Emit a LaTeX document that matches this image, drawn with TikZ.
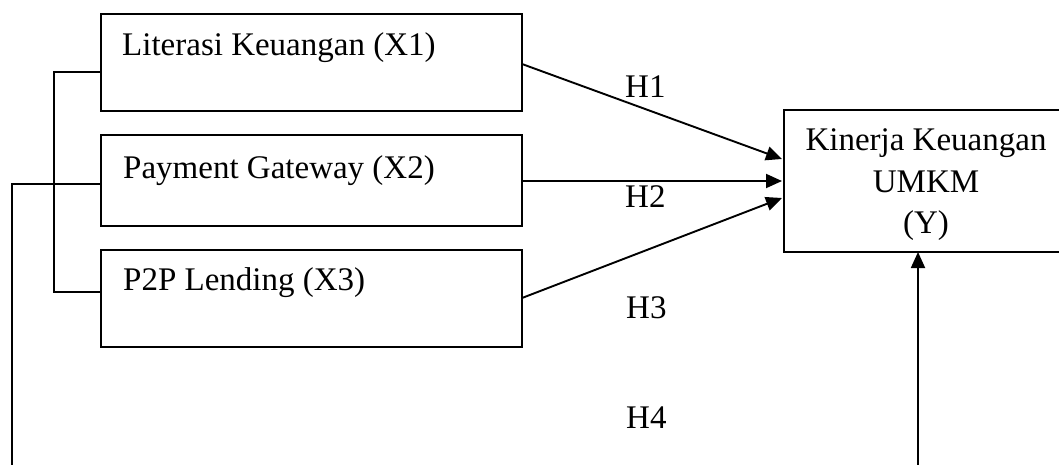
\documentclass[tikz,border=0pt]{standalone}
\usepackage{fontspec}
\setmainfont{Liberation Serif}
\usetikzlibrary{arrows.meta}
\begin{document}
\begin{tikzpicture}[x=1pt,y=-1pt,
  box/.style={draw,line width=1.7pt,inner sep=0pt},
  lbl/.style={inner sep=0pt,anchor=base west,font=\fontsize{33}{40}\selectfont},
  ytxt/.style={inner sep=0pt,anchor=base,font=\fontsize{33}{40}\selectfont},
  conn/.style={line width=1.9pt},
  arr/.style={line width=1.9pt,-{Triangle[length=16pt,width=14pt]}}]
\useasboundingbox (0,0) rectangle (1059,464);
% boxes
\node[box,minimum width=421pt,minimum height=97pt] (x1) at (311.5,62.5) {};
\node[box,minimum width=421pt,minimum height=91pt] (x2) at (311.5,180.5) {};
\node[box,minimum width=421pt,minimum height=97pt] (x3) at (311.5,298.5) {};
\node[box,minimum width=284pt,minimum height=142pt] (y) at (926,181) {};
% texts
\node[lbl] (t1) at (122,55) {Literasi Keuangan (X1)};
\node[lbl] (t2) at (123,178) {Payment Gateway (X2)};
\node[lbl] (t3) at (123,290) {P2P Lending (X3)};
\node[ytxt] (ty1) at (926,150) {Kinerja Keuangan};
\node[ytxt] (ty2) at (926,192) {UMKM};
\node[ytxt] (ty3) at (926,233) {(Y)};
\node[lbl] (h1) at (625,97) {H1};
\node[lbl] (h2) at (625,207) {H2};
\node[lbl] (h3) at (626,318) {H3};
\node[lbl] (h4) at (626,428) {H4};
% coordinates
\coordinate (a1) at (522,64);
\coordinate (b1) at (782,159);
\coordinate (a2) at (522,181);
\coordinate (b2) at (782,181);
\coordinate (a3) at (522,298);
\coordinate (b3) at (782,198);
\coordinate (l1) at (101,72);
\coordinate (l3) at (101,292);
\coordinate (l2) at (101,184);
\coordinate (bot) at (12,466);
\coordinate (bot2) at (918,466);
\coordinate (ytip) at (918,252);
% arrows
\draw[arr] (a1) -- (b1);
\draw[arr] (a2) -- (b2);
\draw[arr] (a3) -- (b3);
\draw[arr] (bot2) -- (ytip);
% bracket
\draw[conn] (l1) -- (54,72) -- (54,292) -- (l3);
\draw[conn] (l2) -- (12,184) -- (bot);
\end{tikzpicture}
\end{document}
